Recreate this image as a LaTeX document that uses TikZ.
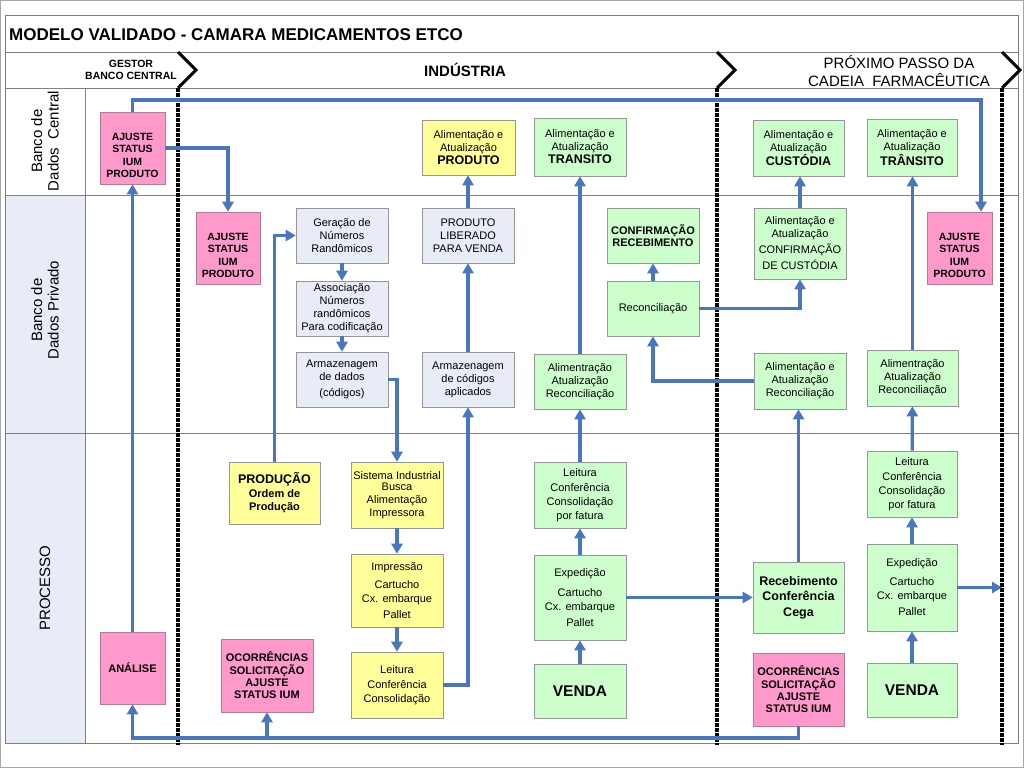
\documentclass[tikz,border=0pt]{standalone}
\usepackage{fontspec}
\setmainfont{Liberation Sans}
\usetikzlibrary{arrows.meta}
\definecolor{fluxo}{RGB}{72,118,192}
\definecolor{cinzaC}{RGB}{232,236,247}
\definecolor{amarelo}{RGB}{255,255,153}
\definecolor{verdeC}{RGB}{204,255,204}
\definecolor{rosaC}{RGB}{255,153,204}
\definecolor{borda}{RGB}{150,150,150}
\definecolor{bordaR}{RGB}{175,125,150}
\definecolor{linha}{RGB}{128,128,128}
\newcommand{\forte}[1]{{\fontsize{12.5}{13}\selectfont\bfseries #1}}

\begin{document}
\begin{tikzpicture}%
	[x=1pt, y=-1pt,
	lane/.style={draw=linha, line width=0.8pt},
	limite/.style={line width=3.4pt, dash pattern=on 3.5pt off 1.5pt},
	chevron/.style={line width=3pt, line join=miter},
	flow/.style={color=fluxo, line width=3.2pt, -{Triangle[width=11pt,length=10pt]}},
	caixa/.style={draw=borda, line width=0.6pt, align=center, inner sep=0pt,
		minimum width=92, minimum height=55, font=\fontsize{11}{13}\selectfont},
	azul/.style={caixa, fill=cinzaC},
	amar/.style={caixa, fill=amarelo},
	verd/.style={caixa, fill=verdeC},
	alerta/.style={caixa, fill=rosaC, draw=bordaR, minimum width=65, minimum height=72,
		font=\fontsize{10.5}{12.3}\selectfont\bfseries},
	venda/.style={verd, minimum height=54, font=\fontsize{15.5}{18}\selectfont\bfseries},
	faixa/.style={rotate=90, align=center, font=\fontsize{15}{16.5}\selectfont}]
%
\useasboundingbox (0,0) rectangle (1024,768);
%
%% Helper coordinates for the connectors
%%
\coordinate (topo) at (981,100);
\coordinate (fundo) at (0,738);
\coordinate (saida) at (1002,588);
%%
%%
%% Drawing the frame and the lanes
%%
\draw[draw=linha!70] (0.5,0.5) rectangle (1023.5,767.5);
\fill[cinzaC] (5,195) rectangle (85,743);
\draw[lane] (5,15) rectangle (1018,743);
\draw[lane] (5,52) -- (1018,52);
\draw[lane] (5,88) -- (1018,88);
\draw[lane] (5,195) -- (1018,195);
\draw[lane] (5,433) -- (1018,433);
\draw[lane] (85,88) -- (85,743);
\foreach \xx in {178,717,1002}{
	\draw[limite] (\xx,88) -- (\xx,745);
	\draw[chevron] (\xx,52) -- (\xx+18,70) -- (\xx,88);
}
%%
%%
%% Drawing the titles
%%
\node[anchor=base west, inner sep=0pt, font=\fontsize{17}{20}\selectfont\bfseries] (tit) at (9,41) {MODELO VALIDADO - CAMARA MEDICAMENTOS ETCO};
\node[align=center, font=\fontsize{10.5}{12}\selectfont\bfseries] (gestor) at (131,70) {GESTOR\\BANCO CENTRAL};
\node[font=\fontsize{15}{17}\selectfont\bfseries] (industria) at (465,70) {INDÚSTRIA};
\node[align=center, font=\fontsize{15}{18}\selectfont] (proximo) at (899,71) {PRÓXIMO PASSO DA\\CADEIA~~FARMACÊUTICA};
\node[faixa] (central) at (45,141) {Banco de\\Dados~~Central};
\node[faixa] (privado) at (45,310) {Banco de\\Dados Privado};
\node[faixa] (processo) at (45,588) {PROCESSO};
%%
%%
%% Drawing the boxes: Banco de Dados Central
%%
\node[alerta] (ajusteC) at (132.5,148) {\rule{0pt}{22pt}AJUSTE\\STATUS\\IUM\\PRODUTO};
\node[amar, minimum width=93] (alimProd) at (468.5,147.5) {Alimentação e\\Atualização\\\forte{PRODUTO}};
\node[verd, minimum height=58] (alimTrans) at (580,147) {Alimentação e\\Atualização\\\forte{TRANSITO}};
\node[verd, minimum width=91, minimum height=56] (alimCust) at (798.5,148) {Alimentação e\\Atualização\\\forte{CUSTÓDIA}};
\node[verd, minimum width=90, minimum height=57] (alimTransD) at (912,147.5) {Alimentação e\\Atualização\\\forte{TRÂNSITO}};
%%
%%
%% Drawing the boxes: Banco de Dados Privado
%%
\node[alerta, minimum width=64] (ajusteP) at (228,248) {\rule{0pt}{22pt}AJUSTE\\STATUS\\IUM\\PRODUTO};
\node[azul] (geracao) at (342,235.5) {Geração de\\Números\\Randômicos};
\node[azul] (assoc) at (342,308.5) {Associação\\Números\\randômicos\\Para codificação};
\node[azul] (armaz) at (342,379.5) {Armazenagem\\de dados\\[3pt](códigos)};
\node[azul] (liberado) at (468,235.5) {PRODUTO\\LIBERADO\\PARA VENDA};
\node[azul] (armazCod) at (468,379.5) {Armazenagem\\de códigos\\aplicados};
\node[verd] (confRec) at (653,235.5) {\textbf{CONFIRMAÇÃO}\\[-1pt]\textbf{RECEBIMENTO}};
\node[verd] (reconc) at (653,308.5) {Reconciliação};
\node[verd] (alimRecE) at (580,381.5) {Alimentração\\Atualização\\Reconciliação};
\node[verd, minimum height=71] (confCust) at (800,243.5) {Alimentação e\\Atualização\\[3pt]CONFIRMAÇÃO\\[3pt]DE CUSTÓDIA};
\node[verd, minimum height=56] (alimRecM) at (800,381) {Alimentação e\\Atualização\\Reconciliação};
\node[verd, minimum width=91, minimum height=56] (alimRecD) at (912.5,378) {Alimentração\\Atualização\\Reconciliação};
\node[alerta] (ajusteD) at (959.5,248) {\rule{0pt}{22pt}AJUSTE\\STATUS\\IUM\\PRODUTO};
%%
%%
%% Drawing the boxes: Processo
%%
\node[alerta, font=\fontsize{11}{12.3}\selectfont\bfseries] (analise) at (132.5,668) {ANÁLISE};
\node[amar, minimum width=91, minimum height=62] (producao) at (274.5,493) {\forte{PRODUÇÃO}\\[1pt]\textbf{Ordem de}\\\textbf{Produção}};
\node[alerta, minimum width=92, minimum height=73, font=\fontsize{11}{12.3}\selectfont\bfseries] (ocorrE) at (267,675.5) {OCORRÊNCIAS\\SOLICITAÇÃO\\AJUSTE\\STATUS IUM};
\node[amar, minimum height=66] (sistema) at (397,495) {Sistema Industrial\\[-2pt]Busca\\Alimentação\\Impressora};
\node[amar, minimum height=73] (impressao) at (397,590.5) {Impressão\\[5pt]Cartucho\\[1pt]Cx. embarque\\[3pt]Pallet};
\node[amar, minimum height=66] (leitura) at (397,685) {Leitura\\[2pt]Conferência\\[1pt]Consolidação};
\node[verd, minimum height=66] (leituraE) at (580,495) {Leitura\\[2pt]Conferência\\[1pt]Consolidação\\[1pt]por fatura};
\node[verd, minimum height=85] (expedE) at (580,597.5) {Expedição\\[7pt]Cartucho\\[1pt]Cx. embarque\\[3pt]Pallet};
\node[venda] (vendaE) at (580,691) {VENDA};
\node[verd, minimum width=91, minimum height=71, font=\fontsize{12.5}{15.5}\selectfont\bfseries] (receb) at (798.5,597.5) {Recebimento\\Conferência\\Cega};
\node[alerta, minimum width=91, minimum height=73, font=\fontsize{11}{12.3}\selectfont\bfseries] (ocorrD) at (798.5,689.5) {OCORRÊNCIAS\\SOLICITAÇÃO\\AJUSTE\\STATUS IUM};
\node[verd, minimum width=90, minimum height=66] (leituraD) at (912,484) {Leitura\\[2pt]Conferência\\[1pt]Consolidação\\[1pt]por fatura};
\node[verd, minimum width=90, minimum height=87] (expedD) at (912,587.5) {Expedição\\[6pt]Cartucho\\[1pt]Cx. embarque\\[3pt]Pallet};
\node[venda, minimum width=90] (vendaD) at (912,690) {VENDA};
%%
%%
%% Drawing the connectors
%%
\draw[flow] (ajusteC.north) |- (topo) -- (ajusteD.north -| topo);
\draw[flow] (ajusteC.east) -| (ajusteP.north);
\draw[flow] (analise.north) -- (ajusteC.south);
\draw[flow] (ocorrD.south) |- (analise.south |- fundo) -- (analise.south);
\draw[flow] (ocorrE.south |- fundo) -- (ocorrE.south);
\draw[flow] (producao.north) |- (geracao.west);
\draw[flow] (geracao) -- (assoc);
\draw[flow] (assoc) -- (armaz);
\draw[flow] (armaz.east) -| (sistema.north);
\draw[flow] (sistema) -- (impressao);
\draw[flow] (impressao) -- (leitura);
\draw[flow] (leitura.east) -| (armazCod.south);
\draw[flow] (armazCod) -- (liberado);
\draw[flow] (liberado) -- (liberado.north |- alimProd.south);
\draw[flow] (vendaE) -- (expedE);
\draw[flow] (expedE) -- (leituraE);
\draw[flow] (leituraE) -- (alimRecE);
\draw[flow] (alimRecE) -- (alimTrans);
\draw[flow] (expedE.east) -- (receb.west);
\draw[flow] (receb.north) -- (receb.north |- alimRecM.south);
\draw[flow] (alimRecM.west) -| (reconc.south);
\draw[flow] (reconc) -- (confRec);
\draw[flow] (reconc.east) -| (confCust.south);
\draw[flow] (confCust.north) -- (confCust.north |- alimCust.south);
\draw[flow] (vendaD) -- (expedD);
\draw[flow] (expedD) -- (leituraD);
\draw[flow] (leituraD) -- (alimRecD);
\draw[flow] (alimRecD.north) -- (alimRecD.north |- alimTransD.south);
\draw[flow] (expedD.east) -- (expedD.east -| saida);
%%
%%
\end{tikzpicture}
\end{document}
